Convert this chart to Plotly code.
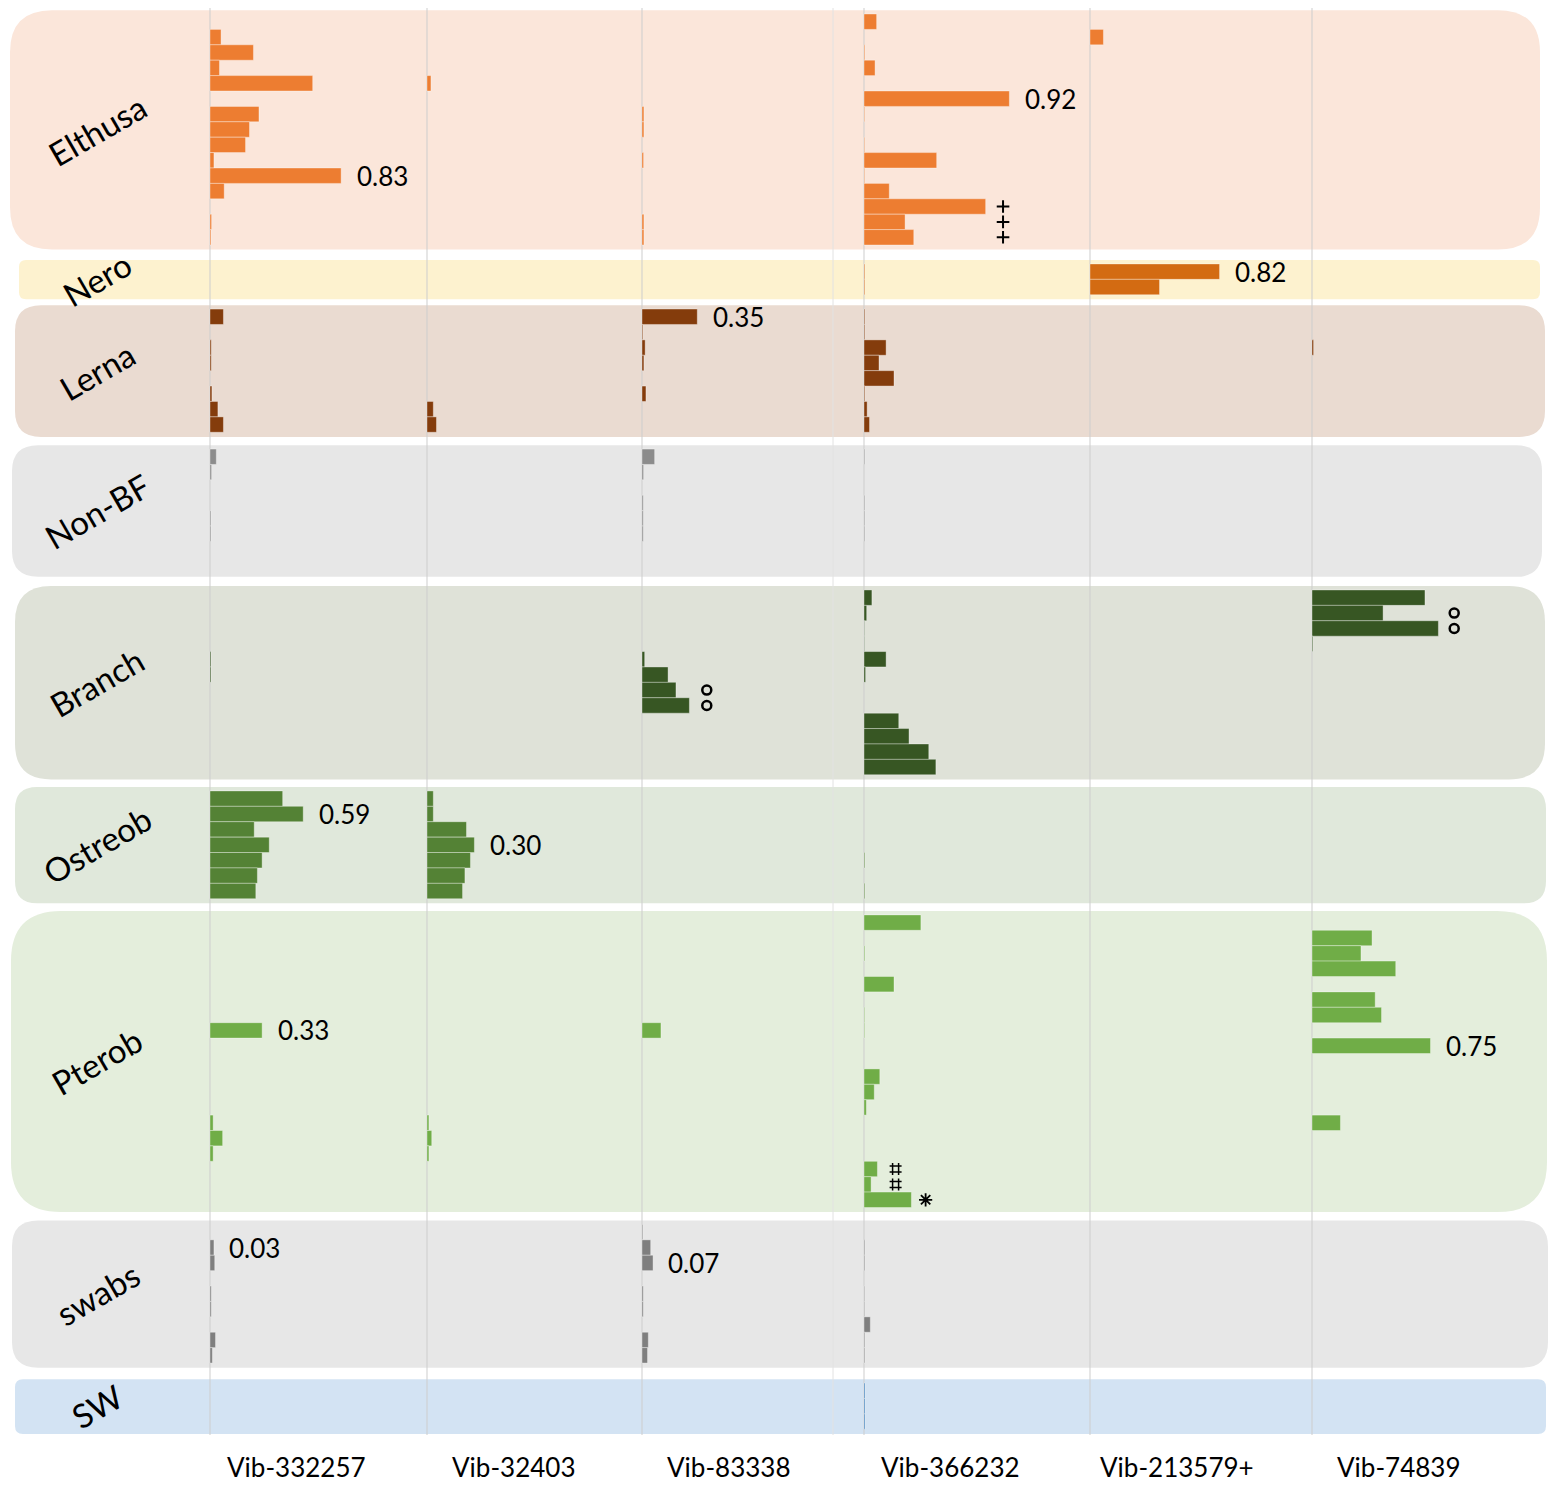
import plotly.graph_objects as go

# column headers (Vibrio OTUs) and sample groups
columns = ["Vib-332257", "Vib-32403", "Vib-83338", "Vib-366232", "Vib-213579+", "Vib-74839"]
groups = ["Elthusa", "Nero", "Lerna", "Non-BF", "Branch", "Ostreob", "Pterob", "swabs", "SW"]

# relative abundance, one list per column, one value per sample row
elthusa = [
    [0, 0.07, 0.275, 0.06, 0.65, 0, 0.31, 0.25, 0.225, 0.025, 0.83, 0.09, 0, 0.01, 0.006],
    [0, 0, 0, 0, 0.025, 0, 0, 0, 0, 0, 0, 0, 0, 0, 0],
    [0, 0, 0, 0, 0, 0, 0.012, 0.012, 0, 0.01, 0, 0, 0, 0.012, 0.012],
    [0.08, 0, 0.005, 0.07, 0, 0.92, 0.004, 0, 0.004, 0.46, 0.004, 0.16, 0.77, 0.26, 0.315],
    [0, 0.085, 0, 0, 0, 0, 0, 0, 0, 0, 0, 0, 0, 0, 0],
    [0, 0, 0, 0, 0, 0, 0, 0, 0, 0, 0, 0, 0, 0, 0],
]
nero = [
    [0, 0],
    [0, 0],
    [0, 0],
    [0.005, 0.005],
    [0.82, 0.44],
    [0, 0],
]
lerna = [
    [0.085, 0, 0.008, 0.008, 0, 0.012, 0.05, 0.085],
    [0, 0, 0, 0, 0, 0, 0.04, 0.06],
    [0.35, 0.005, 0.02, 0.012, 0, 0.025, 0, 0],
    [0.005, 0.005, 0.14, 0.095, 0.19, 0.005, 0.02, 0.035],
    [0, 0, 0, 0, 0, 0, 0, 0],
    [0, 0, 0.01, 0, 0, 0, 0, 0],
]
non_bf = [
    [0.04, 0.01, 0, 0, 0.006, 0.006, 0, 0],
    [0, 0, 0, 0, 0, 0, 0, 0],
    [0.08, 0.01, 0, 0.008, 0.008, 0.008, 0, 0],
    [0.005, 0, 0, 0.005, 0.005, 0.005, 0, 0],
    [0, 0, 0, 0, 0, 0, 0, 0],
    [0, 0, 0, 0, 0, 0, 0, 0],
]
branch = [
    [0, 0, 0, 0, 0.006, 0.006, 0, 0, 0, 0, 0, 0],
    [0, 0, 0, 0, 0, 0, 0, 0, 0, 0, 0, 0],
    [0, 0, 0, 0, 0.017, 0.165, 0.215, 0.30, 0, 0, 0, 0],
    [0.05, 0.017, 0.003, 0.003, 0.14, 0.01, 0, 0, 0.22, 0.285, 0.41, 0.455],
    [0, 0, 0, 0, 0, 0, 0, 0, 0, 0, 0, 0],
    [0.715, 0.45, 0.80, 0.005, 0, 0, 0, 0, 0, 0, 0, 0],
]
ostreob = [
    [0.46, 0.59, 0.28, 0.375, 0.33, 0.30, 0.29],
    [0.04, 0.04, 0.25, 0.30, 0.275, 0.24, 0.225],
    [0, 0, 0, 0, 0, 0, 0],
    [0, 0, 0, 0, 0.005, 0, 0.005],
    [0, 0, 0, 0, 0, 0, 0],
    [0, 0, 0, 0, 0, 0, 0],
]
pterob = [
    [0, 0, 0, 0, 0, 0, 0, 0.33, 0, 0, 0, 0, 0, 0.02, 0.08, 0.02, 0, 0, 0],
    [0, 0, 0, 0, 0, 0, 0, 0, 0, 0, 0, 0, 0, 0.012, 0.03, 0.012, 0, 0, 0],
    [0, 0, 0, 0, 0, 0, 0, 0.12, 0, 0, 0, 0, 0, 0, 0, 0, 0, 0, 0],
    [0.36, 0, 0.005, 0, 0.19, 0, 0.004, 0.004, 0, 0, 0.10, 0.065, 0.015, 0, 0, 0, 0.085, 0.045, 0.30],
    [0, 0, 0, 0, 0, 0, 0, 0, 0, 0, 0, 0, 0, 0, 0, 0, 0, 0, 0],
    [0, 0.38, 0.31, 0.53, 0, 0.40, 0.44, 0, 0.75, 0, 0, 0, 0, 0.18, 0, 0, 0, 0, 0],
]
swabs = [
    [0, 0.025, 0.03, 0, 0.008, 0.008, 0, 0.035, 0.015],
    [0, 0, 0, 0, 0, 0, 0, 0, 0],
    [0.005, 0.055, 0.07, 0, 0.008, 0.008, 0, 0.04, 0.035],
    [0, 0.005, 0.005, 0, 0.004, 0.004, 0.04, 0.005, 0.005],
    [0, 0, 0, 0, 0, 0, 0, 0, 0],
    [0, 0, 0, 0, 0, 0, 0, 0, 0],
]
sw = [
    [0, 0, 0],
    [0, 0, 0],
    [0, 0, 0],
    [0.006, 0.006, 0.006],
    [0, 0, 0],
    [0, 0, 0],
]
data = dict(zip(groups, [elthusa, nero, lerna, non_bf, branch, ostreob, pterob, swabs, sw]))

# printed values: (group, column, row, text)
value_labels = [
    ("Elthusa", 0, 10, "0.83"), ("Elthusa", 3, 5, "0.92"), ("Nero", 4, 0, "0.82"),
    ("Lerna", 2, 0, "0.35"), ("Ostreob", 0, 1, "0.59"), ("Ostreob", 1, 3, "0.30"),
    ("Pterob", 0, 7, "0.33"), ("Pterob", 5, 8, "0.75"), ("swabs", 0, 1, "0.03"),
    ("swabs", 2, 2, "0.07"),
]
# significance marks: (group, column, row, symbol)
marks = [
    ("Elthusa", 3, 12, "+"), ("Elthusa", 3, 13, "+"), ("Elthusa", 3, 14, "+"),
    ("Pterob", 3, 16, "#"), ("Pterob", 3, 17, "#"), ("Pterob", 3, 18, "*"),
    ("Branch", 2, 6, "o"), ("Branch", 2, 7, "o"), ("Branch", 5, 1, "o"), ("Branch", 5, 2, "o"),
]

# ---- styling / layout ----
bar_colors = ["#ED7D31", "#D36B12", "#843C0C", "#8C8C8C", "#375623", "#548235", "#70AD47", "#7F7F7F", "#2E75B6"]
bg_colors = ["#FBE6DA", "#FDF2CF", "#EADBD1", "#E7E7E7", "#DFE2D8", "#E0E8DB", "#E4EEDC", "#E7E7E7", "#D3E3F3"]
bg_x = [(10, 1540), (19, 1540), (15, 1545), (12, 1542), (15, 1545), (15, 1546), (11, 1547), (12, 1548), (15, 1546)]
bg_r = [42, 7, 26, 26, 36, 22, 50, 26, 8]
gaps = [1.23, 0.93, 1.09, 1.15, 1.05, 1.05, 1.1, 1.3]

W, H = 1559, 1489
PAGE = 8     # browser body margin around the plot div
PX = 158.0   # pixels per unit of abundance
ROW = 15.4   # pixels per sample row
TOP = 14     # pixel position of first row
col_px = [210, 427, 642, 864, 1090, 1312]
offsets = [p / PX for p in col_px]
mark_style = {
    "+": dict(symbol="cross-thin-open", size=9, width=2),
    "#": dict(symbol="hash-open", size=12, width=1.5),
    "*": dict(symbol="asterisk-open", size=11, width=1.8),
    "o": dict(symbol="circle-open", size=9, width=2.5),
}
mark_dx = {"+": 0.88, "#": 0.2, "*": 0.39}
circle_dx = {2: 0.41, 5: 0.9}

starts = {}
pos = 0.0
for i, g in enumerate(groups):
    starts[g] = pos
    pos += len(data[g][0]) + (gaps[i] if i < len(gaps) else 0)

fig = go.Figure()
shapes = []

def rounded(x0, y0, x1, y1, r):
    rx, ry = r / PX, r / ROW
    return (f"M {x0+rx},{y0} L {x1-rx},{y0} Q {x1},{y0} {x1},{y0+ry} "
            f"L {x1},{y1-ry} Q {x1},{y1} {x1-rx},{y1} L {x0+rx},{y1} "
            f"Q {x0},{y1} {x0},{y1-ry} L {x0},{y0+ry} Q {x0},{y0} {x0+rx},{y0} Z")

for i, g in enumerate(groups):
    n = len(data[g][0])
    y0 = starts[g] - 0.25
    y1 = starts[g] + n + 0.3
    shapes.append(dict(type="path", path=rounded(bg_x[i][0] / PX, y0, bg_x[i][1] / PX, y1, bg_r[i]),
                       fillcolor=bg_colors[i], line=dict(width=0), layer="below"))

# faint column lines
for xp in col_px + [833]:
    shapes.append(dict(type="line", x0=xp / PX, x1=xp / PX, y0=-TOP / ROW, y1=(1435 - TOP) / ROW,
                       line=dict(color="#CDCDCD" if xp != 833 else "#E2E2E2", width=1), layer="below"))

for i, g in enumerate(groups):
    for c in range(len(columns)):
        vals = data[g][c]
        ys = [starts[g] + r + 0.5 for r in range(len(vals))]
        xs = [v if v > 0 else None for v in vals]
        fig.add_trace(go.Bar(
            x=xs, y=ys, base=offsets[c], orientation="h", width=1,
            marker=dict(color=bar_colors[i], line=dict(color="rgba(255,255,255,0.35)", width=1)),
            hoverinfo="skip",
        ))

annotations = []
for g, c, r, t in value_labels:
    annotations.append(dict(x=offsets[c] + data[g][c][r] + 0.085, y=starts[g] + r + 0.5, text=t,
                            showarrow=False, xanchor="left", yanchor="middle",
                            font=dict(family="Lato", size=26, color="black")))

for s, st in mark_style.items():
    mx, my = [], []
    for g, c, r, sym in marks:
        if sym != s:
            continue
        mx.append(offsets[c] + (circle_dx[c] if s == "o" else mark_dx[s]))
        my.append(starts[g] + r + 0.5)
    fig.add_trace(go.Scatter(x=mx, y=my, mode="markers", hoverinfo="skip",
                             marker=dict(symbol=st["symbol"], size=st["size"], color="black",
                                         line=dict(width=st["width"], color="black"))))

for i, g in enumerate(groups):
    n = len(data[g][0])
    annotations.append(dict(x=97 / PX, y=starts[g] + n / 2, text=g, textangle=-30, showarrow=False,
                            xanchor="center", yanchor="middle",
                            font=dict(family="Lato", size=33, color="black")))

for c, name in enumerate(columns):
    annotations.append(dict(x=offsets[c] + 0.55, y=(1467 - TOP) / ROW, text=name, showarrow=False,
                            xanchor="center", yanchor="middle",
                            font=dict(family="Lato", size=26, color="black")))

# plot area shifted by the page margin so that picture pixels line up
fw, fh = W - PAGE, H - PAGE
fig.update_layout(
    width=fw, height=fh, autosize=False,
    margin=dict(l=0, r=0, t=0, b=0),
    paper_bgcolor="white", plot_bgcolor="white",
    barmode="overlay", showlegend=False,
    shapes=shapes, annotations=annotations,
    xaxis=dict(visible=False, range=[PAGE / PX, (PAGE + fw) / PX], fixedrange=True),
    yaxis=dict(visible=False, range=[(PAGE + fh - TOP) / ROW, (PAGE - TOP) / ROW], fixedrange=True),
)

fig.write_html("out.html")
